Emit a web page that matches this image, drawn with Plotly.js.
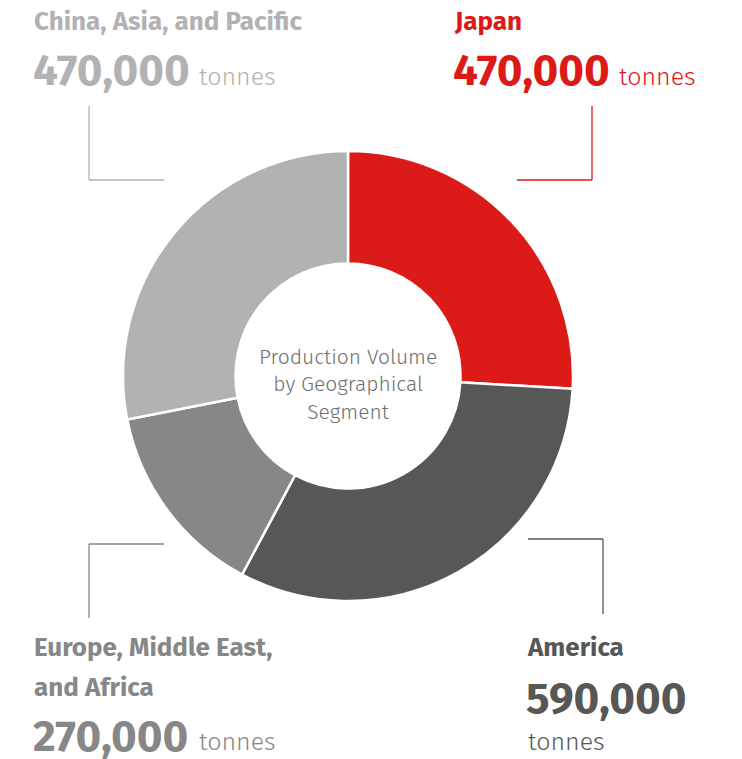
<!DOCTYPE html>
<html>
<head>
<meta charset="utf-8">
<script src="https://cdn.plot.ly/plotly-3.0.1.min.js"></script>
<style>html,body{margin:0;padding:0;background:#fff;}#chart{width:742px;height:759px;}</style>
</head>
<body>
<div id="chart"></div>
<script>
// ---- data ----
const regions = ['Japan', 'America', 'Europe, Middle East, and Africa', 'China, Asia, and Pacific'];
const regionTitleLines = [['Japan'], ['America'], ['Europe, Middle East,', 'and Africa'], ['China, Asia, and Pacific']];
// volumes printed in the labels (tonnes)
const volumes = [470000, 590000, 270000, 470000];
// slice shares (%) as read from the drawn donut
const sliceShares = [25.9, 31.9, 14.1, 28.1];
const unit = 'tonnes';
const centerTitle = 'Production Volume<br>by Geographical<br>Segment';
const sliceColors = ['#dc1a17', '#575756', '#878787', '#b2b2b2'];

// ---- layout helpers ----
const W = 742, H = 759;
const px = x => x / W;
const py = y => 1 - y / H;
const FONT = 'Fira Sans, Open Sans, Noto Sans, sans-serif';
const fmt = v => v.toLocaleString('en-US');

const cx = 348, cy = 376, R = 225;

const trace = {
  type: 'pie',
  labels: regions,
  values: sliceShares,
  sort: false,
  direction: 'clockwise',
  rotation: 0,
  hole: 0.5,
  textinfo: 'none',
  hoverinfo: 'label',
  marker: {colors: sliceColors, line: {color: '#ffffff', width: 2.5}},
  domain: {x: [px(cx - R), px(cx + R)], y: [py(cy + R), py(cy - R)]},
  showlegend: false
};

const ann = [];
function txt(x, y, text, size, color, weight) {
  ann.push({xref: 'paper', yref: 'paper', x: px(x), y: py(y), text: text,
    showarrow: false, xanchor: 'left', yanchor: 'top', align: 'left',
    font: {family: FONT, size: size, color: color, weight: weight || 400}});
}
const TS = 26, NS = 44, US = 25;
// China
txt(32, 4, '<b>' + regionTitleLines[3][0] + '</b>', TS, sliceColors[3]);
txt(31, 42, '<b>' + fmt(volumes[3]) + '</b>', NS, sliceColors[3]);
txt(197, 60, unit, US, sliceColors[3], 300);
// Japan
txt(452, 4, '<b>' + regionTitleLines[0][0] + '</b>', TS, sliceColors[0]);
txt(451, 42, '<b>' + fmt(volumes[0]) + '</b>', NS, sliceColors[0]);
txt(617, 60, unit, US, sliceColors[0], 300);
// Europe
txt(32, 630, '<b>' + regionTitleLines[2][0] + '</b>', TS, sliceColors[2]);
txt(32, 670, '<b>' + regionTitleLines[2][1] + '</b>', TS, sliceColors[2]);
txt(31, 708, '<b>' + fmt(volumes[2]) + '</b>', NS, sliceColors[2]);
txt(197, 725, unit, US, sliceColors[2], 300);
// America
txt(525, 630, '<b>' + regionTitleLines[1][0] + '</b>', TS, sliceColors[1]);
txt(524, 670, '<b>' + fmt(volumes[1]) + '</b>', NS, sliceColors[1]);
txt(526, 725, unit, US, sliceColors[1], 300);
// center
ann.push({xref: 'paper', yref: 'paper', x: px(cx), y: py(384), text: centerTitle,
  showarrow: false, xanchor: 'center', yanchor: 'middle', align: 'center',
  font: {family: FONT, size: 21, color: '#6f6f6f', weight: 300, lineheight: 1.3}});

// connector lines
const shapes = [];
function seg(x0, y0, x1, y1, color) {
  shapes.push({type: 'line', xref: 'paper', yref: 'paper', x0: px(x0), y0: py(y0), x1: px(x1), y1: py(y1),
    line: {color: color, width: 1.3}});
}
seg(89, 106, 89, 180, sliceColors[3]); seg(89, 180, 164, 180, sliceColors[3]);
seg(592, 106, 592, 180, sliceColors[0]); seg(517, 180, 592, 180, sliceColors[0]);
seg(89, 544, 164, 544, sliceColors[2]); seg(89, 544, 89, 618, sliceColors[2]);
seg(528, 539, 603, 539, sliceColors[1]); seg(603, 539, 603, 614, sliceColors[1]);

Plotly.newPlot('chart', [trace], {
  width: W, height: H,
  margin: {l: 0, r: 0, t: 0, b: 0},
  paper_bgcolor: '#ffffff',
  annotations: ann,
  shapes: shapes,
  showlegend: false
}, {displayModeBar: false, staticPlot: true});
</script>
</body>
</html>
